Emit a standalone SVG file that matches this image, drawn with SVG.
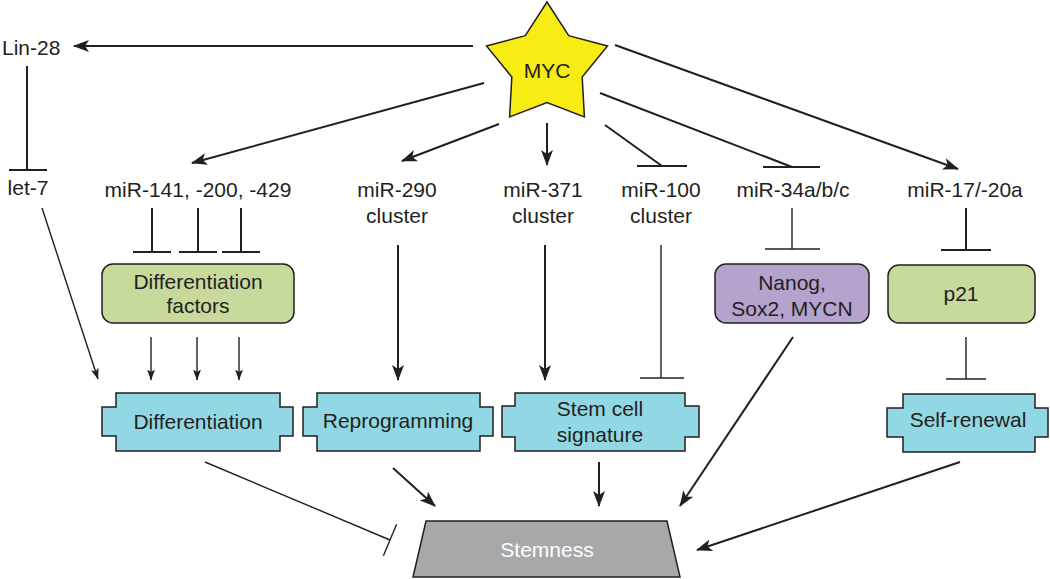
<svg xmlns="http://www.w3.org/2000/svg" width="1050" height="579" viewBox="0 0 1050 579">
<style>
text{font-family:"Liberation Sans",Arial,sans-serif;font-size:21px;fill:#231f20;text-anchor:middle}
.thick{stroke:#231f20;stroke-width:2;fill:none}
.thin{stroke:#231f20;stroke-width:1.4;fill:none}
.cyan{fill:#92d7e4;stroke:#231f20;stroke-width:1.5}
.green{fill:#c8d99c;stroke:#231f20;stroke-width:1.5}
.purple{fill:#b4a3cd;stroke:#231f20;stroke-width:1.5}
</style>
<defs>
<marker id="ah" markerUnits="userSpaceOnUse" markerWidth="16" markerHeight="12" viewBox="0 0 16 12" refX="15" refY="6" orient="auto">
<path d="M0,0 L16,6 L0,12 L4,6 Z" fill="#231f20"/>
</marker>
<marker id="ahs" markerUnits="userSpaceOnUse" markerWidth="11" markerHeight="8" viewBox="0 0 11 8" refX="10.5" refY="4" orient="auto">
<path d="M0,0 L11,4 L0,8 L2.5,4 Z" fill="#231f20"/>
</marker>
</defs>
<g id="connectors">
<line class="thick" x1="473" y1="46" x2="74" y2="46" marker-end="url(#ah)"/>
<line class="thick" x1="27" y1="66" x2="27" y2="170"/>
<line class="thick" x1="9" y1="170" x2="47" y2="170"/>
<line class="thin" x1="42" y1="208" x2="98" y2="379" marker-end="url(#ahs)"/>
<line class="thick" x1="484" y1="83" x2="192" y2="163" marker-end="url(#ah)"/>
<line class="thick" x1="152" y1="208" x2="152" y2="252"/>
<line class="thick" x1="133" y1="252" x2="171" y2="252"/>
<line class="thick" x1="198" y1="208" x2="198" y2="252"/>
<line class="thick" x1="179" y1="252" x2="217" y2="252"/>
<line class="thick" x1="241" y1="208" x2="241" y2="252"/>
<line class="thick" x1="222" y1="252" x2="260" y2="252"/>
<line class="thin" x1="151" y1="337" x2="151" y2="380" marker-end="url(#ahs)"/>
<line class="thin" x1="197" y1="337" x2="197" y2="380" marker-end="url(#ahs)"/>
<line class="thin" x1="239" y1="337" x2="239" y2="380" marker-end="url(#ahs)"/>
<line class="thick" x1="499" y1="124" x2="402" y2="161" marker-end="url(#ah)"/>
<line class="thick" x1="547" y1="123" x2="547" y2="165" marker-end="url(#ah)"/>
<line class="thick" x1="605" y1="125" x2="662" y2="166"/>
<line class="thick" x1="637" y1="166" x2="687" y2="166"/>
<line class="thick" x1="600" y1="93" x2="792" y2="167"/>
<line class="thick" x1="763" y1="167" x2="820" y2="167"/>
<line class="thick" x1="615" y1="45" x2="958" y2="169" marker-end="url(#ah)"/>
<line class="thick" x1="398" y1="245" x2="398" y2="380" marker-end="url(#ah)"/>
<line class="thick" x1="545" y1="245" x2="545" y2="380" marker-end="url(#ah)"/>
<line class="thin" x1="661" y1="245" x2="661" y2="378"/>
<line class="thin" x1="640" y1="378" x2="684" y2="378"/>
<line class="thin" x1="792" y1="208" x2="792" y2="249"/>
<line class="thin" x1="765" y1="249" x2="820" y2="249"/>
<line class="thick" x1="966" y1="208" x2="966" y2="250"/>
<line class="thick" x1="941" y1="250" x2="991" y2="250"/>
<line class="thin" x1="966" y1="337" x2="966" y2="379"/>
<line class="thin" x1="946" y1="379" x2="986" y2="379"/>
<line class="thin" x1="205" y1="462" x2="390" y2="540"/>
<line class="thin" x1="396.6" y1="524.3" x2="383.4" y2="555.7"/>
<line class="thick" x1="393" y1="468" x2="435" y2="506" marker-end="url(#ah)"/>
<line class="thick" x1="599" y1="462" x2="599" y2="506" marker-end="url(#ah)"/>
<line class="thick" x1="793" y1="337" x2="680" y2="506" marker-end="url(#ah)"/>
<line class="thick" x1="960" y1="462" x2="697" y2="550" marker-end="url(#ah)"/>
</g>
<g id="myc">
<polygon points="547,2 568.7,35.7 607.5,46 582.2,77 584.4,117 547,102.6 509.6,117 511.8,77 486.5,46 525.3,35.7" fill="#f7ec14" stroke="#231f20" stroke-width="1.5"/>
<text x="547" y="78">MYC</text>
</g>
<g id="lin28"><text x="2" y="55" style="text-anchor:start">Lin-28</text></g>
<g id="let7"><text x="28" y="195">let-7</text></g>
<g id="mir141"><text x="198" y="197">miR-141, -200, -429</text></g>
<g id="mir290"><text x="397" y="197">miR-290</text><text x="397" y="223">cluster</text></g>
<g id="mir371"><text x="543" y="197">miR-371</text><text x="543" y="223">cluster</text></g>
<g id="mir100"><text x="661" y="197">miR-100</text><text x="661" y="223">cluster</text></g>
<g id="mir34"><text x="793" y="197">miR-34a/b/c</text></g>
<g id="mir17"><text x="965" y="197">miR-17/-20a</text></g>
<g id="difffactors">
<rect class="green" x="102" y="264" width="192" height="59" rx="11"/>
<text x="198" y="289">Differentiation</text><text x="198" y="313">factors</text>
</g>
<g id="nanog">
<rect class="purple" x="715" y="264" width="154" height="59" rx="11"/>
<text x="792" y="290">Nanog,</text><text x="792" y="316">Sox2, MYCN</text>
</g>
<g id="p21">
<rect class="green" x="888" y="265" width="147" height="58" rx="11"/>
<text x="961" y="301">p21</text>
</g>
<g id="differentiation">
<path class="cyan" d="M116,393 H280 V407 H293 V436 H280 V451 H116 V436 H102 V407 H116 Z"/>
<text x="198" y="429">Differentiation</text>
</g>
<g id="reprogramming">
<path class="cyan" d="M317,393 H480 V407 H493 V436 H480 V451 H317 V436 H303 V407 H317 Z"/>
<text x="398" y="428">Reprogramming</text>
</g>
<g id="stemcell">
<path class="cyan" d="M515,393 H685 V406 H699 V437 H685 V451 H515 V437 H502 V406 H515 Z"/>
<text x="600" y="416">Stem cell</text><text x="600" y="442">signature</text>
</g>
<g id="selfrenewal">
<path class="cyan" d="M903,394 H1035 V408 H1048 V437 H1035 V452 H903 V437 H887 V408 H903 Z"/>
<text x="968" y="427">Self-renewal</text>
</g>
<g id="stemness">
<polygon points="426,521 667,521 680,577 413,577" fill="#a7a8aa" stroke="#231f20" stroke-width="1.5"/>
<text x="547" y="557" style="fill:#ffffff">Stemness</text>
</g>
</svg>
